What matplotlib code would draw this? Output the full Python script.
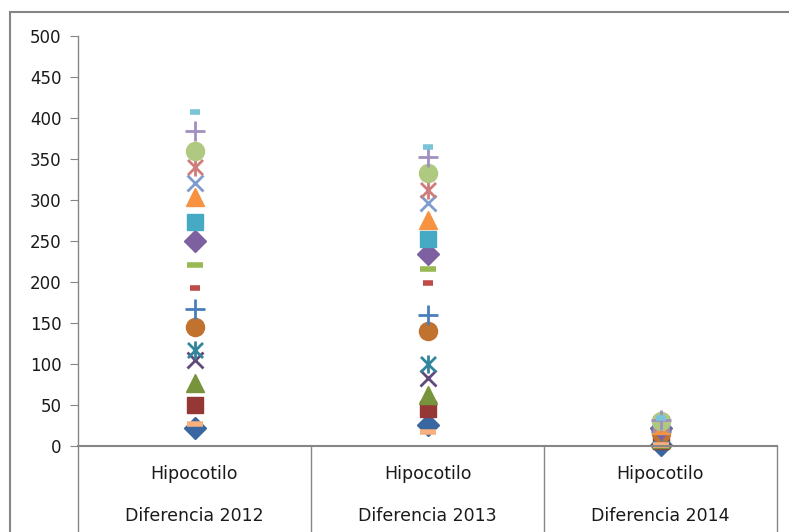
import matplotlib
matplotlib.use('Agg')
import matplotlib.pyplot as plt
from matplotlib.path import Path
from matplotlib.patches import Rectangle

plt.rcParams['font.family'] = ['Liberation Sans Narrow', 'DejaVu Sans']

# categorias (dos niveles)
categorias = ['Diferencia 2012', 'Diferencia 2013', 'Diferencia 2014']
subcategoria = 'Hipocotilo'

# valores por serie: [2012, 2013, 2014]
s1 = [22, 26, 1]
s2 = [50, 45, 6]
s3 = [77, 62, 9]
s4 = [105, 83, 12]
s5 = [117, 100, 14]
s6 = [145, 140, 16]
s7 = [167, 160, 18]
s8 = [193, 199, 19]
s9 = [221, 216, 21]
s10 = [250, 234, 22]
s11 = [273, 252, 24]
s12 = [304, 276, 26]
s13 = [321, 296, 27]
s14 = [340, 312, 28]
s15 = [360, 333, 31]
s16 = [384, 352, 32]
s17 = [407, 365, 34]
s18 = [27, 17, 1]

series = [s1, s2, s3, s4, s5, s6, s7, s8, s9, s10, s11, s12,
          s13, s14, s15, s16, s17, s18]

# marcador tipo "estrella" de Excel: X con linea vertical
estrella = Path([(-1, -1), (1, 1), (-1, 1), (1, -1), (0, -1.2), (0, 1.2)],
                [Path.MOVETO, Path.LINETO, Path.MOVETO, Path.LINETO,
                 Path.MOVETO, Path.LINETO])

# (marcador, color, tamaño, grosor, relleno)
estilos = [
    ('D', '#3A67A1', 11, 1, True),
    ('s', '#953735', 12, 1, True),
    ('^', '#77933C', 13, 1, True),
    ('x', '#604A7B', 12, 2, False),
    (estrella, '#31859C', 13, 2, False),
    ('o', '#C0722E', 13, 1, True),
    ('+', '#4A7EBB', 14, 2, False),
    ('_', '#BE4B48', 7, 4, False),
    ('_', '#98B954', 12, 4, False),
    ('D', '#7D60A0', 11, 1, True),
    ('s', '#46AAC5', 12, 1, True),
    ('^', '#F69240', 13, 1, True),
    ('x', '#7E9CCE', 12, 2, False),
    (estrella, '#D07C7A', 13, 2, False),
    ('o', '#AFCA80', 13, 1, True),
    ('+', '#A090BF', 14, 2, False),
    ('_', '#7BC3D9', 7, 4, False),
    ('_', '#F9B07F', 12, 4, False),
]

W, H = 789, 532
fig = plt.figure(figsize=(W / 100, H / 100), dpi=100)
gris = '#868686'

# borde del area del grafico (cortado a la derecha y abajo)
fig.patches.append(Rectangle((10 / W, -0.1), 1.2, (H - 12) / H + 0.1,
                             transform=fig.transFigure, fill=False,
                             edgecolor=gris, linewidth=1.5))

x0, x1 = 78, 777
y0, y1 = 446, 36
ax = fig.add_axes([x0 / W, (H - y0) / H, (x1 - x0) / W, (y0 - y1) / H])

x = [i + 0.5 for i in range(len(categorias))]
for vals, (m, c, ms, mew, filled) in zip(series, estilos):
    if filled:
        ax.plot(x, vals, linestyle='none', marker=m, markersize=ms,
                markerfacecolor=c, markeredgecolor=c, markeredgewidth=mew,
                clip_on=False)
    else:
        ax.plot(x, vals, linestyle='none', marker=m, markersize=ms,
                markerfacecolor='none', markeredgecolor=c, markeredgewidth=mew,
                clip_on=False)

ax.set_xlim(0, 3)
ax.set_ylim(0, 500)
ax.set_yticks(range(0, 501, 50))
ax.tick_params(axis='y', direction='out', length=6, color=gris,
               labelsize=12, labelcolor='#1a1a1a', pad=6)
ax.set_xticks([])
for s in ['top', 'right']:
    ax.spines[s].set_visible(False)
ax.spines['left'].set_color(gris)
ax.spines['bottom'].set_color(gris)
ax.spines['left'].set_linewidth(1)
ax.spines['bottom'].set_linewidth(1.5)

# separadores de categorias y etiquetas en dos niveles
abajo = -(H - y0) / (y0 - y1)
tr = ax.get_xaxis_transform()
for i in range(len(categorias) + 1):
    ax.plot([i, i], [0, abajo], color=gris, linewidth=1, transform=tr,
            clip_on=False)
for xi, cat in zip(x, categorias):
    ax.text(xi, -(474 - y0) / (y0 - y1), subcategoria, transform=tr,
            ha='center', va='center', fontsize=12.5, color='#1a1a1a')
    ax.text(xi, -(516 - y0) / (y0 - y1), cat, transform=tr,
            ha='center', va='center', fontsize=12.5, color='#1a1a1a')

fig.savefig('out.png', dpi=100)
